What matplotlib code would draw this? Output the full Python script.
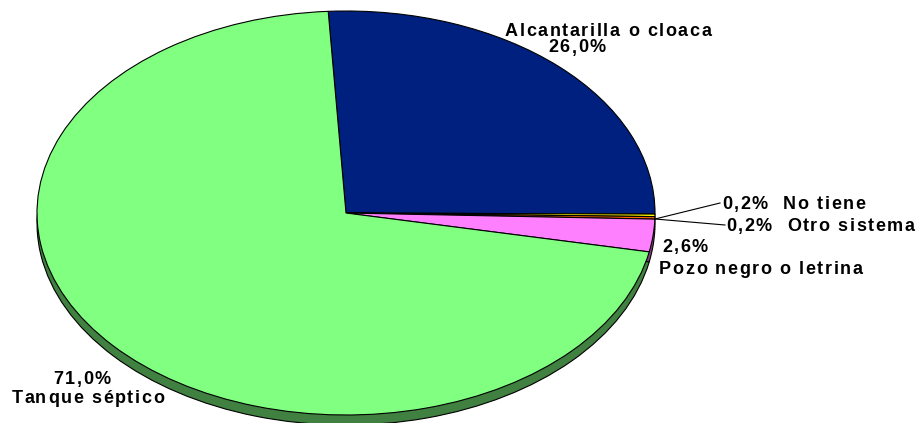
import matplotlib.pyplot as plt
from matplotlib.font_manager import FontProperties

# data
categories = ['Alcantarilla o cloaca', 'No tiene', 'Otro sistema',
              'Pozo negro o letrina', 'Tanque séptico']
values = [26.0, 0.2, 0.2, 2.6, 71.0]
value_labels = ['26,0%', '0,2%', '0,2%', '2,6%', '71,0%']

colors = ['#002080', '#FFFF00', '#FF6600', '#FF80FF', '#80FF80']
side_colors = ['#001040', '#808000', '#803300', '#804080', '#408040']

W, H = 917, 423
cx, cy = 346, 213      # pie centre in pixels
rx, ry = 309, 202      # ellipse radii in pixels
depth = 10             # thickness of the 3d side in pixels

fig = plt.figure(figsize=(W / 100, H / 100), dpi=100)
ax = fig.add_axes([0, 0, 1, 1])

# side of the pie (shifted copy underneath)
ax.pie(values, colors=side_colors, startangle=93.3, counterclock=False,
       center=(0, -depth / ry), radius=1, frame=True,
       wedgeprops=dict(edgecolor='black', linewidth=0.8))
# top of the pie
ax.pie(values, colors=colors, startangle=93.3, counterclock=False,
       center=(0, 0), radius=1, frame=True,
       wedgeprops=dict(edgecolor='black', linewidth=0.8))
# map data units so the unit circle becomes the ellipse
ax.set_aspect('auto')
ax.set_xlim(-cx / rx, (W - cx) / rx)
ax.set_ylim(-(H - cy) / ry, cy / ry)
ax.axis('off')

prop = FontProperties(family='Liberation Sans', weight='bold', size=13)
renderer = fig.canvas.get_renderer()
spacing = 1.6  # extra letter spacing in pixels


def text_width(s):
    if not s:
        return 0
    # trailing spaces are not measured, so measure with a marker
    w, _, _ = renderer.get_text_width_height_descent(s + '|', prop, ismath=False)
    w2, _, _ = renderer.get_text_width_height_descent('|', prop, ismath=False)
    return w - w2


def spaced_text(x, y, s, ha='left'):
    total = text_width(s) + spacing * (len(s) - 1)
    if ha == 'center':
        x = x - total / 2
    for i, ch in enumerate(s):
        xi = x + text_width(s[:i]) + spacing * i
        fig.text(xi / W, 1 - y / H, ch, ha='left', va='center',
                 fontproperties=prop, color='black')


spaced_text(608, 32, categories[0], ha='center')
spaced_text(577, 48, value_labels[0], ha='center')

spaced_text(722, 204, value_labels[1] + '  ' + categories[1])
spaced_text(726, 226, value_labels[2] + '  ' + categories[2])

spaced_text(662, 247, value_labels[3])
spaced_text(659, 269, categories[3])

spaced_text(82, 379, value_labels[4], ha='center')
spaced_text(88, 398, categories[4], ha='center')

# leader lines for the tiny slices
for (x1, y1), (x2, y2) in [((655, 219), (720, 203)), ((655, 219), (725, 225))]:
    fig.add_artist(plt.Line2D([x1 / W, x2 / W], [1 - y1 / H, 1 - y2 / H],
                              color='black', linewidth=0.8))

fig.savefig('out.png', dpi=100)
